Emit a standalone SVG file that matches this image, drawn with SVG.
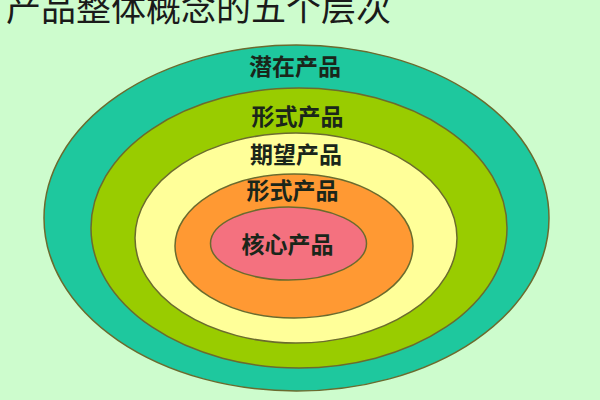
<svg xmlns="http://www.w3.org/2000/svg" width="600" height="400" viewBox="0 0 600 400">
<style>
.ring{stroke:#6b6b2e;stroke-width:1.5}
.lbl{font-family:"Noto Sans CJK SC","Noto Sans",sans-serif;font-size:23px;font-weight:bold;fill:#1a261a;text-anchor:middle}
.title{font-family:"Noto Sans CJK SC","Noto Sans",sans-serif;font-size:35px;fill:#1a1a1a}
</style>
<rect width="600" height="400" fill="#cdfccd"/>
<text class="title" x="6" y="21">产品整体概念的五个层次</text>
<g id="potential">
<ellipse class="ring" cx="296.5" cy="218" rx="252.5" ry="173" fill="#1ec89e"/>
<text class="lbl" x="295" y="75">潜在产品</text>
</g>
<g id="form-outer">
<ellipse class="ring" cx="299" cy="228" rx="208" ry="140" fill="#99cc00"/>
<text class="lbl" x="297.5" y="125">形式产品</text>
</g>
<g id="expected">
<ellipse class="ring" cx="296" cy="238" rx="161" ry="105" fill="#ffff99"/>
<text class="lbl" x="296" y="163">期望产品</text>
</g>
<g id="form-inner">
<ellipse class="ring" cx="294" cy="246" rx="119" ry="72" fill="#ff9933"/>
<text class="lbl" x="292.5" y="199">形式产品</text>
</g>
<g id="core">
<ellipse class="ring" cx="288.5" cy="243.5" rx="78" ry="36.5" fill="#f4717f"/>
<text class="lbl" x="287.5" y="253">核心产品</text>
</g>
<g id="connectors"></g>
</svg>
